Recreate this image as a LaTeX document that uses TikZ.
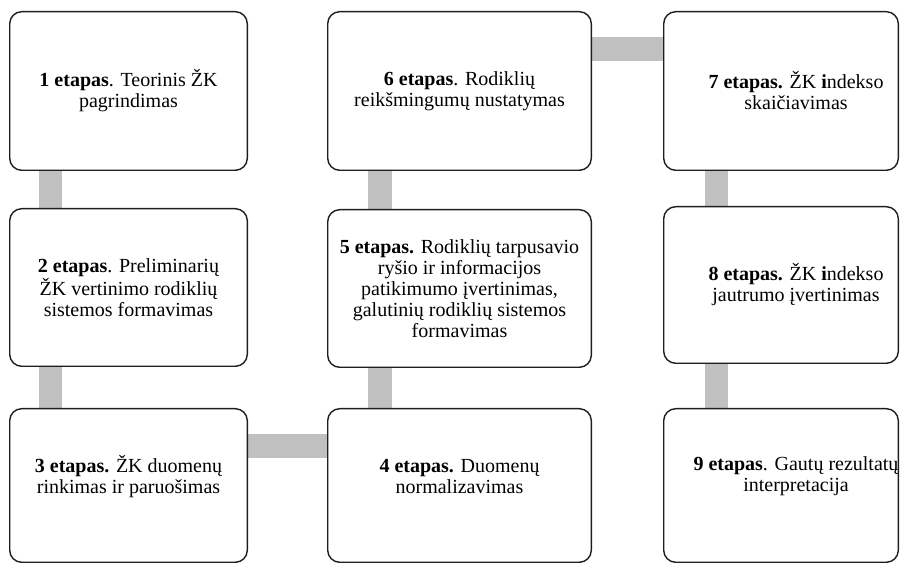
\documentclass[tikz,border=0pt]{standalone}
\usepackage{fontspec}
\setmainfont{Liberation Serif}
\usetikzlibrary{backgrounds}
\definecolor{linkgray}{RGB}{192,192,192}
\definecolor{edgeink}{RGB}{30,30,30}
\begin{document}
\begin{tikzpicture}[x=1pt,y=1pt,
  stage/.style={draw=edgeink, line width=1.4pt, rounded corners=12pt,
    fill=white, inner sep=0pt},
  colA/.style={minimum width=237.6pt},
  colB/.style={minimum width=263.6pt},
  colC/.style={minimum width=234.6pt},
  stagetext/.style={align=center, inner sep=0pt,
    font=\fontsize{20}{21}\selectfont},
  link/.style={fill=linkgray}]
\useasboundingbox (0,0) rectangle (900,565);

% stage boxes
\node[stage, colA, minimum height=158.6pt] (b1) at (128.5,474) {};
\node[stage, colA, minimum height=157.6pt] (b2) at (128.5,277.5) {};
\node[stage, colA, minimum height=153.6pt] (b3) at (128.5,79.5) {};
\node[stage, colB, minimum height=153.6pt] (b4) at (459.5,79.5) {};
\node[stage, colB, minimum height=157.6pt] (b5) at (459.5,276.5) {};
\node[stage, colB, minimum height=158.6pt] (b6) at (459.5,474) {};
\node[stage, colC, minimum height=158.6pt] (b7) at (781,474) {};
\node[stage, colC, minimum height=156.6pt] (b8) at (781,280) {};
\node[stage, colC, minimum height=153.6pt] (b9) at (781,79.5) {};

% stage texts
\node[stagetext] (t1) at (b1.center) {\textbf{1 etapas}. Teorinis ŽK\\pagrindimas};
\node[stagetext] (t2) at (b2.center) {\textbf{2 etapas}. Preliminarių\\ŽK vertinimo rodiklių\\sistemos formavimas};
\node[stagetext] (t3) at ([yshift=9pt]b3.center) {\textbf{3 etapas.} ŽK duomenų\\rinkimas ir paruošimas};
\node[stagetext] (t4) at ([yshift=9pt]b4.center) {\textbf{4 etapas.} Duomenų\\normalizavimas};
\node[stagetext] (t5) at (b5.center) {\textbf{5 etapas.} Rodiklių tarpusavio\\ryšio ir informacijos\\patikimumo įvertinimas,\\galutinių rodiklių sistemos\\formavimas};
\node[stagetext] (t6) at (b6.center) {\textbf{6 etapas}. Rodiklių\\reikšmingumų nustatymas};
\node[stagetext] (t7) at ([xshift=15pt]b7.center) {\textbf{7 etapas.} ŽK \textbf{i}ndekso\\skaičiavimas};
\node[stagetext] (t8) at ([xshift=15pt]b8.center) {\textbf{8 etapas.} ŽK \textbf{i}ndekso\\jautrumo įvertinimas};
\node[stagetext] (t9) at ([xshift=15pt,yshift=9pt]b9.center) {\textbf{9 etapas}. Gautų rezultatų\\interpretacija};

% grey links between consecutive stages
\begin{scope}[on background layer]
  \fill[link] ([xshift=29.5pt]b1.south west) rectangle ([xshift=53pt]b2.north west);
  \fill[link] ([xshift=29.5pt]b2.south west) rectangle ([xshift=53pt]b3.north west);
  \fill[link] ([yshift=-26.3pt]b3.north east) rectangle ([yshift=-50.3pt]b4.north west);
  \fill[link] ([xshift=41.3pt]b4.north west) rectangle ([xshift=65.3pt]b5.south west);
  \fill[link] ([xshift=41.3pt]b5.north west) rectangle ([xshift=65.3pt]b6.south west);
  \fill[link] ([yshift=-26.3pt]b6.north east) rectangle ([yshift=-50.3pt]b7.north west);
  \fill[link] ([xshift=42.3pt]b7.south west) rectangle ([xshift=65.3pt]b8.north west);
  \fill[link] ([xshift=42.3pt]b8.south west) rectangle ([xshift=65.3pt]b9.north west);
\end{scope}
\end{tikzpicture}
\end{document}
